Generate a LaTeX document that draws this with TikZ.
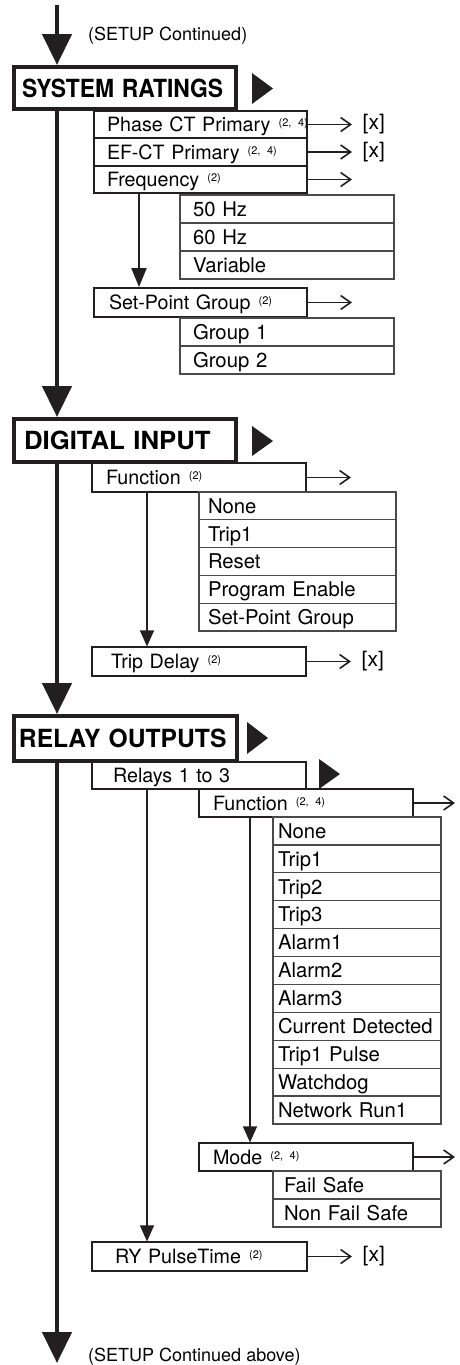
\documentclass[tikz,border=0pt]{standalone}
\usepackage{fontspec}
\setmainfont{TeX Gyre Heros}
\usetikzlibrary{arrows.meta}
\definecolor{ink}{HTML}{231F20}
\definecolor{optink}{HTML}{4A4A4A}
\newcommand{\nt}[1]{\hspace{1.5pt}\raisebox{5pt}{\fontsize{11}{11}\selectfont(#1)}}
\begin{document}
\begin{tikzpicture}[x=1pt,y=-1pt,
  box/.style={draw=ink, anchor=north west, outer sep=0pt, inner ysep=0pt, align=left,
    text depth=0pt},
  hdr/.style={box, line width=4.5pt, text height=18pt,
    font=\fontsize{25}{27}\selectfont\bfseries},
  sub/.style={box, line width=2.6pt, text height=14.2pt, font=\fontsize{19.7}{22}\selectfont},
  subt/.style={box, line width=1.3pt, text height=14.2pt, font=\fontsize{19.7}{22}\selectfont},
  opt/.style={box, draw=optink, line width=1.2pt, text height=14.6pt,
    font=\fontsize{20.3}{22}\selectfont},
  mline/.style={draw=ink, line width=4.5pt, -{Triangle[width=29pt,length=31pt]}},
  conn/.style={draw=ink, line width=1.3pt, -{Triangle[width=14pt,length=16pt]}, shorten >=0.6pt},
  connb/.style={draw=ink, line width=2.4pt, -{Triangle[width=15pt,length=19pt]}, shorten >=1pt},
  ra/.style={draw=ink, line width=1.4pt, -{Straight Barb[length=10pt,width=14pt,line width=1.6pt]}},
  xl/.style={anchor=west, inner sep=0pt, xshift=10pt, font=\fontsize{21}{23}\selectfont},
  note/.style={anchor=base west, inner sep=0pt, font=\fontsize{18}{20}\selectfont}
]
\useasboundingbox (0,0) rectangle (459,1365);
\fill[white] (0,0) rectangle (459,1365);

% ---------- SYSTEM RATINGS ----------
\node[note] (st) at (88,40) {(SETUP Continued)};
\node[hdr, minimum width=222, minimum height=42, inner xsep=8pt, text width=206pt] (sr) at (14,67)
  {\mbox{\scalebox{0.915}[1]{SYSTEM RATINGS}}};
\fill[ink] (252,73) -- (273,88.5) -- (252,104) -- cycle;

\node[sub, minimum width=213, minimum height=27, inner xsep=13pt, text width=187pt] (pct) at (94,111)
  {\mbox{Phase CT Primary \nt{2, 4}}};
\node[sub, minimum width=213, minimum height=28, inner xsep=13pt, text width=187pt] (efct) at (94,138)
  {\mbox{EF-CT Primary \nt{2, 4}}};
\node[sub, minimum width=213, minimum height=27, inner xsep=13pt, text width=187pt] (freq) at (94,166)
  {\mbox{Frequency \nt{2}}};
\draw[ra] (pct.east) -- ++(45,0) node[xl] (x1) {[x]};
\draw[ra] (efct.east) -- ++(45,0) node[xl] (x2) {[x]};
\draw[ra] (freq.east) -- ++(45,0) coordinate (fqe);

\node[opt, minimum width=214, minimum height=28, inner xsep=13pt, text width=188pt] (hz50) at (180,195) {50 Hz};
\node[opt, minimum width=214, minimum height=28, inner xsep=13pt, text width=188pt] (hz60) at (hz50.south west) {60 Hz};
\node[opt, minimum width=214, minimum height=28, inner xsep=13pt, text width=188pt] (hzv) at (hz60.south west) {Variable};

\node[sub, minimum width=213, minimum height=29, inner xsep=15pt, text width=183pt] (spg) at (94,288)
  {\mbox{Set-Point Group \nt{2}}};
\draw[connb] ([xshift=45pt]freq.south west) -- ([xshift=45pt]spg.north west);
\draw[ra] (spg.east) -- ++(45,0) coordinate (spge);
\node[opt, minimum width=214, minimum height=28, inner xsep=13pt, text width=188pt] (g1) at (180,318) {Group 1};
\node[opt, minimum width=214, minimum height=28, inner xsep=13pt, text width=188pt] (g2) at (g1.south west) {Group 2};

% ---------- DIGITAL INPUT ----------
\node[hdr, minimum width=222, minimum height=43, inner xsep=10pt, text width=202pt] (di) at (14,419)
  {\mbox{\scalebox{1.03}[1]{DIGITAL INPUT}}};
\fill[ink] (252,426) -- (273,441) -- (252,456) -- cycle;
\node[sub, minimum width=214, minimum height=29, inner xsep=14pt, text width=186pt] (dif) at (92,463)
  {\mbox{Function \nt{2}}};
\draw[ra] (dif.east) -- ++(45,0) coordinate (dife);
\node[opt, minimum width=197, minimum height=27.8, inner xsep=9pt, text width=179pt] (d1) at (199,492) {None};
\node[opt, minimum width=197, minimum height=27.8, inner xsep=9pt, text width=179pt] (d2) at (d1.south west) {Trip1};
\node[opt, minimum width=197, minimum height=27.8, inner xsep=9pt, text width=179pt] (d3) at (d2.south west) {Reset};
\node[opt, minimum width=197, minimum height=27.8, inner xsep=9pt, text width=179pt] (d4) at (d3.south west) {Program Enable};
\node[opt, minimum width=197, minimum height=27.8, inner xsep=9pt, text width=179pt] (d5) at (d4.south west) {Set-Point Group};
\node[sub, minimum width=214, minimum height=29, inner xsep=19pt, text width=176pt] (td) at (92,647)
  {\mbox{Trip Delay \nt{2}}};
\draw[conn] ([xshift=55pt]dif.south west) -- ([xshift=55pt]td.north west);
\draw[ra] (td.east) -- ++(45,0) node[xl] (x3) {[x]};

% ---------- RELAY OUTPUTS ----------
\node[hdr, minimum width=223, minimum height=45, inner xsep=5pt, text width=213pt] (ro) at (14,716)
  {\mbox{\scalebox{0.985}[1]{RELAY OUTPUTS}}};
\fill[ink] (247,722) -- (268,738) -- (247,754) -- cycle;
\node[sub, minimum width=214, minimum height=27, inner xsep=21pt, text width=172pt] (r13) at (92,762)
  {\mbox{Relays 1 to 3}};
\fill[ink] (319,759) -- (340,774) -- (319,789) -- cycle;
\node[subt, minimum width=214, minimum height=28, inner xsep=14pt, text width=186pt] (rf) at (199,789)
  {\mbox{Function \nt{2, 4}}};
\draw[ra] (rf.east) -- ++(42,0) coordinate (rfe);

\node[opt, minimum width=168, minimum height=27.9, inner xsep=5pt, text width=158pt] (f1) at (273,817) {None};
\node[opt, minimum width=168, minimum height=27.9, inner xsep=5pt, text width=158pt] (f2) at (f1.south west) {Trip1};
\node[opt, minimum width=168, minimum height=27.9, inner xsep=5pt, text width=158pt] (f3) at (f2.south west) {Trip2};
\node[opt, minimum width=168, minimum height=27.9, inner xsep=5pt, text width=158pt] (f4) at (f3.south west) {Trip3};
\node[opt, minimum width=168, minimum height=27.9, inner xsep=5pt, text width=158pt] (f5) at (f4.south west) {Alarm1};
\node[opt, minimum width=168, minimum height=27.9, inner xsep=5pt, text width=158pt] (f6) at (f5.south west) {Alarm2};
\node[opt, minimum width=168, minimum height=27.9, inner xsep=5pt, text width=158pt] (f7) at (f6.south west) {Alarm3};
\node[opt, minimum width=168, minimum height=27.9, inner xsep=5pt, text width=158pt] (f8) at (f7.south west) {\mbox{Current Detected}};
\node[opt, minimum width=168, minimum height=27.9, inner xsep=5pt, text width=158pt] (f9) at (f8.south west) {Trip1 Pulse};
\node[opt, minimum width=168, minimum height=27.9, inner xsep=5pt, text width=158pt] (f10) at (f9.south west) {Watchdog};
\node[opt, minimum width=168, minimum height=27.9, inner xsep=5pt, text width=158pt] (f11) at (f10.south west) {Network Run1};

\node[subt, minimum width=214, minimum height=28, inner xsep=14pt, text width=186pt] (mode) at (199,1143)
  {\mbox{Mode \nt{2, 4}}};
\draw[conn] ([xshift=51pt]rf.south west) -- ([xshift=51pt]mode.north west);
\draw[ra] (mode.east) -- ++(42,0) coordinate (mde);
\node[opt, minimum width=168, minimum height=28, inner xsep=11pt, text width=146pt] (fs) at (273,1171) {Fail Safe};
\node[opt, minimum width=168, minimum height=28, inner xsep=11pt, text width=146pt] (nfs) at (fs.south west) {Non Fail Safe};

\node[sub, minimum width=215, minimum height=29, inner xsep=23pt, text width=169pt] (ry) at (92,1242)
  {\mbox{RY PulseTime \nt{2}}};
\draw[conn] ([xshift=55pt]r13.south west) -- ([xshift=55pt]ry.north west);
\draw[ra] (ry.east) -- ++(45,0) node[xl] (x4) {[x]};

% ---------- main spine ----------
\coordinate (top) at (57,5);
\coordinate (bot) at (57,1363);
\draw[mline, shorten >=2pt] (top) -- (top |- sr.north);
\draw[mline, shorten >=2pt] (top |- sr.south) -- (top |- di.north);
\draw[mline, shorten >=2pt] (top |- di.south) -- (top |- ro.north);
\draw[mline] (top |- ro.south) -- (bot);
\node[note] (sb) at (88,1361.5) {(SETUP Continued above)};
\end{tikzpicture}
\end{document}
